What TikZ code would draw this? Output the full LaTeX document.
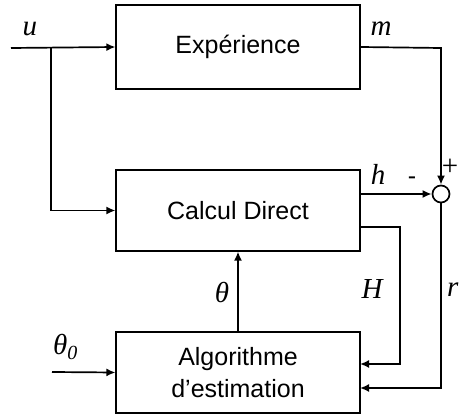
\documentclass[tikz,border=0pt]{standalone}
\usepackage{fontspec}
\setsansfont{Liberation Sans}
\newfontfamily\lserif{Liberation Serif}
\usetikzlibrary{arrows.meta}
\tikzset{
  blockbox/.style={draw, line width=1.2pt, minimum width=244pt, inner sep=0pt, align=center,
    font=\sffamily\fontsize{25}{32}\selectfont},
  conn/.style={line width=1.7pt},
  arr/.style={conn, -{Latex[length=9pt,width=8pt]}},
  lbl/.style={inner sep=0pt, font=\lserif\itshape\fontsize{29}{30}\selectfont},
  sgn/.style={inner sep=0pt, font=\sffamily\fontsize{25}{30}\selectfont}
}
\begin{document}
\begin{tikzpicture}[x=1pt,y=-1pt]
\useasboundingbox (0,0) rectangle (459,414);
\node[blockbox, minimum height=84pt] (exp) at (238,47) {Expérience};
\node[blockbox, minimum height=81pt] (calc) at (238,210.5) {Calcul Direct};
\node[blockbox, minimum height=81pt] (algo) at (238,372.5) {Algorithme\\d’estimation};
\node[draw, circle, line width=1.7pt, minimum size=17pt, inner sep=0pt] (sum) at (441,194) {};
\coordinate (uin) at (11,48);
\coordinate (br) at (51,48);
\coordinate (mcorner) at (441,48);
\coordinate (hout) at (360,194);
\coordinate (Hout) at (360,227);
\coordinate (Hc1) at (400,227);
\coordinate (Hc2) at (400,364);
\coordinate (Hin) at (360,364);
\coordinate (rc) at (441,388);
\coordinate (rin) at (360,388);
\coordinate (t0in) at (52,372);
\draw[arr] (uin) -- (exp.west);
\draw[arr] (br) |- (calc.west);
\draw[arr] (exp.east) -- (mcorner) -- (sum.north);
\draw[arr] (hout) -- (sum.west);
\draw[arr] (Hout) -- (Hc1) -- (Hc2) -- (Hin);
\draw[arr] (sum.south) -- (rc) -- (rin);
\draw[arr] (algo.north) -- (calc.south);
\draw[arr] (t0in) -- (algo.west);
\node[lbl] (lu) at (30,29) {u};
\node[lbl] (lm) at (381,29) {m};
\node[lbl] (lh) at (378,174) {h};
\node[sgn] (lminus) at (412,181) {-};
\node[lbl, anchor=east, font=\lserif\fontsize{29}{30}\selectfont] (lplus) at (458.5,167) {+};
\node[lbl] (lH) at (372,289) {H};
\node[lbl] (ltheta) at (222,293) {θ};
\node[lbl, anchor=east] (lr) at (458.5,290) {r};
\node[lbl, anchor=base west] (lt0) at (53,355) {θ\raisebox{-5pt}{\fontsize{20}{20}\selectfont 0}};
\end{tikzpicture}
\end{document}
